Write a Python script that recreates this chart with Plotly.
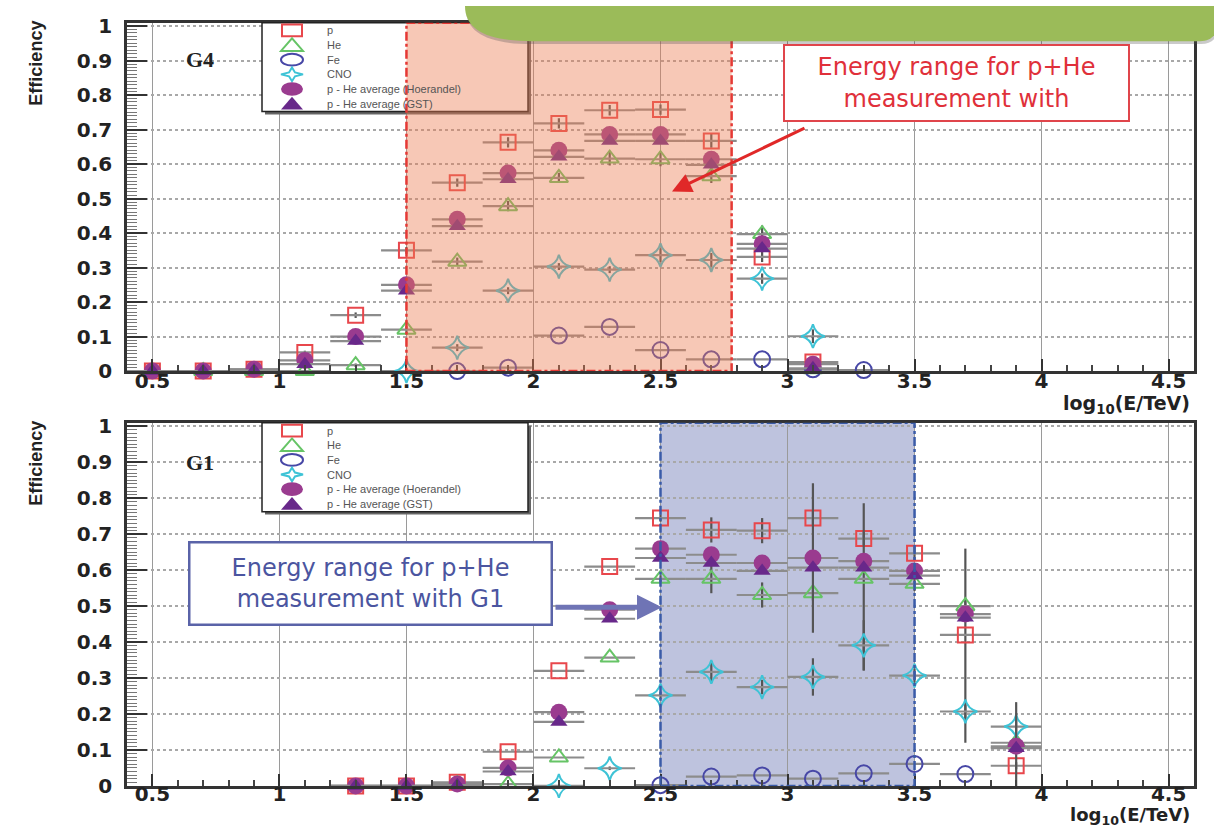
import plotly.graph_objects as go

W, H = 1214, 834

# ---------------- data ----------------
# G4 panel (top)
g4_x_p = [0.5, 0.7, 0.9, 1.1, 1.3, 1.5, 1.7, 1.9, 2.1, 2.3, 2.5, 2.7, 2.9, 3.1]
g4_p = [0.0, 0.0, 0.005, 0.054, 0.162, 0.35, 0.546, 0.663, 0.718, 0.756, 0.758, 0.667, 0.331, 0.026]
g4_x_he = [0.5, 0.7, 0.9, 1.1, 1.3, 1.5, 1.7, 1.9, 2.1, 2.3, 2.5, 2.7, 2.9, 3.1]
g4_he = [0.0, 0.0, 0.0, 0.0, 0.017, 0.12, 0.317, 0.478, 0.56, 0.616, 0.614, 0.565, 0.397, 0.005]
g4_x_fe = [1.7, 1.9, 2.1, 2.3, 2.5, 2.7, 2.9, 3.1, 3.3]
g4_fe = [0.0, 0.01, 0.103, 0.128, 0.061, 0.034, 0.034, 0.005, 0.003]
g4_x_cno = [1.5, 1.7, 1.9, 2.1, 2.3, 2.5, 2.7, 2.9, 3.1]
g4_cno = [0.0, 0.068, 0.233, 0.303, 0.294, 0.336, 0.322, 0.268, 0.101]
g4_x_avg = [0.5, 0.7, 0.9, 1.1, 1.3, 1.5, 1.7, 1.9, 2.1, 2.3, 2.5, 2.7, 2.9, 3.1]
g4_hoer = [0.0, 0.0, 0.005, 0.031, 0.10, 0.25, 0.44, 0.574, 0.64, 0.686, 0.686, 0.614, 0.369, 0.02]
g4_gst = [0.0, 0.0, 0.002, 0.02, 0.087, 0.233, 0.42, 0.556, 0.621, 0.667, 0.667, 0.598, 0.355, 0.008]
g4_p_err = [0, 0, 0, 0.005, 0.008, 0.01, 0.012, 0.015, 0.015, 0.015, 0.015, 0.02, 0.015, 0.005]
g4_he_err = [0, 0, 0, 0, 0.005, 0.01, 0.012, 0.015, 0.015, 0.02, 0.02, 0.02, 0.025, 0.005]
g4_cno_err = [0, 0.01, 0.01, 0.01, 0.01, 0.02, 0.02, 0.015, 0.02]

# G1 panel (bottom)
g1_x_p = [1.3, 1.5, 1.7, 1.9, 2.1, 2.3, 2.5, 2.7, 2.9, 3.1, 3.3, 3.5, 3.7, 3.9]
g1_p = [0.0, 0.0, 0.01, 0.095, 0.32, 0.61, 0.745, 0.712, 0.71, 0.745, 0.688, 0.647, 0.42, 0.056]
g1_p_err_plus = [0, 0, 0, 0, 0, 0, 0.01, 0.035, 0.035, 0.02, 0.02, 0.02, 0.24, 0.01]
g1_p_err_minus = [0, 0, 0, 0, 0, 0, 0.01, 0.035, 0.035, 0.02, 0.02, 0.02, 0.30, 0.01]
g1_x_he = [1.7, 1.9, 2.1, 2.3, 2.5, 2.7, 2.9, 3.1, 3.3, 3.5, 3.7, 3.9]
g1_he = [0.005, 0.005, 0.079, 0.357, 0.576, 0.576, 0.531, 0.536, 0.576, 0.562, 0.5, 0.12]
g1_he_err_plus = [0, 0, 0, 0, 0.01, 0.04, 0.035, 0.02, 0.21, 0.02, 0.02, 0.02]
g1_he_err_minus = [0, 0, 0, 0, 0.01, 0.04, 0.035, 0.02, 0.255, 0.02, 0.02, 0.02]
g1_x_fe = [2.5, 2.7, 2.9, 3.1, 3.3, 3.5, 3.7]
g1_fe = [0.002, 0.026, 0.029, 0.02, 0.035, 0.061, 0.033]
g1_x_cno = [2.1, 2.3, 2.5, 2.7, 2.9, 3.1, 3.3, 3.5, 3.7, 3.9]
g1_cno = [0.0, 0.049, 0.252, 0.317, 0.275, 0.303, 0.391, 0.307, 0.207, 0.165]
g1_cno_err = [0, 0.005, 0.01, 0.03, 0.02, 0.052, 0.07, 0.02, 0.02, 0.02]
g1_x_avg = [1.3, 1.5, 1.7, 1.9, 2.1, 2.3, 2.5, 2.7, 2.9, 3.1, 3.3, 3.5, 3.7, 3.9]
g1_hoer = [0.0, 0.0, 0.005, 0.05, 0.205, 0.49, 0.66, 0.643, 0.62, 0.634, 0.625, 0.598, 0.478, 0.11]
g1_hoer_err = [0, 0, 0, 0, 0, 0, 0.01, 0.01, 0.01, 0.208, 0.02, 0.02, 0.02, 0.123]
g1_gst = [0.0, 0.0, 0.002, 0.04, 0.178, 0.465, 0.634, 0.62, 0.598, 0.607, 0.607, 0.585, 0.468, 0.105]

bin_half_width = 0.1
g4_range = [1.5, 2.78]
g1_range = [2.5, 3.5]

series_names = ["p", "He", "Fe", "CNO", "p - He average (Hoerandel)", "p - He average (GST)"]
x_ticks = [0.5, 1, 1.5, 2, 2.5, 3, 3.5, 4, 4.5]

# ---------------- styles ----------------
C_P = "#E8474C"
C_HE = "#66C466"
C_FE = "#4747A6"
C_CNO = "#3EC3D6"
C_HOER = "#9A3B8F"
C_GST = "#68288A"
ERRX = "#8c8c8c"
ERRY = "#555555"


def px(x):
    return x / W


def py(y):
    return 1 - y / H


def make_traces(xa, ya, sets):
    out = []
    for (x, y, sym, size, color, filled, ey) in sets:
        marker = dict(symbol=sym, size=size, color=color,
                      line=dict(color=color, width=2 if not filled else 0))
        ex = dict(type="constant", value=bin_half_width, color=ERRX, thickness=2.2, width=0)
        tr = dict(x=x, y=y, mode="markers", marker=marker, error_x=ex,
                  xaxis=xa, yaxis=ya, showlegend=False, cliponaxis=False,
                  hoverinfo="x+y")
        if ey is not None:
            plus, minus = ey
            tr["error_y"] = dict(type="data", array=plus, arrayminus=minus, symmetric=False,
                                 color=ERRY, thickness=2.2, width=0)
        out.append(go.Scatter(**tr))
    return out


fig = go.Figure()

top_sets = [
    (g4_x_p, g4_p, "square-open", 15, C_P, False, (g4_p_err, g4_p_err)),
    (g4_x_he, g4_he, "triangle-up-open", 16, C_HE, False, (g4_he_err, g4_he_err)),
    (g4_x_fe, g4_fe, "circle-open", 16, C_FE, False, None),
    (g4_x_cno, g4_cno, "star-diamond-open", 17, C_CNO, False, (g4_cno_err, g4_cno_err)),
    (g4_x_avg, g4_hoer, "circle", 17, C_HOER, True, None),
    (g4_x_avg, g4_gst, "triangle-up", 15, C_GST, True, None),
]
bot_sets = [
    (g1_x_p, g1_p, "square-open", 15, C_P, False, (g1_p_err_plus, g1_p_err_minus)),
    (g1_x_he, g1_he, "triangle-up-open", 16, C_HE, False, (g1_he_err_plus, g1_he_err_minus)),
    (g1_x_fe, g1_fe, "circle-open", 16, C_FE, False, None),
    (g1_x_cno, g1_cno, "star-diamond-open", 17, C_CNO, False, (g1_cno_err, g1_cno_err)),
    (g1_x_avg, g1_hoer, "circle", 17, C_HOER, True, (g1_hoer_err, g1_hoer_err)),
    (g1_x_avg, g1_gst, "triangle-up", 15, C_GST, True, None),
]
for t in make_traces("x", "y", top_sets):
    fig.add_trace(t)
for t in make_traces("x2", "y2", bot_sets):
    fig.add_trace(t)

tickfont = dict(family="DejaVu Sans", size=20, color="#222", weight="bold")


def xaxis_cfg(dom_y_anchor, standoff):
    return dict(
        domain=[px(127), px(1194)], range=[0.4, 4.6], anchor=dom_y_anchor,
        tickmode="array", tickvals=x_ticks, ticktext=[f"{v:g}" for v in x_ticks],
        ticks="inside", ticklen=12, tickwidth=2, tickcolor="#333",
        showgrid=True, gridcolor="#9a9a9a", gridwidth=1,
        minor=dict(dtick=0.1, tick0=0.5, ticks="inside", ticklen=6, tickwidth=1.5,
                   tickcolor="#444", showgrid=False),
        showline=True, linecolor="#333", linewidth=2.5, mirror=True,
        zeroline=False, tickfont=tickfont, ticklabelstandoff=standoff, fixedrange=True,
    )


def yaxis_cfg(dom, xanchor):
    return dict(
        domain=dom, range=[0, 1.01], anchor=xanchor,
        dtick=0.1, tick0=0, ticks="inside", ticklen=20, tickwidth=2, tickcolor="#333",
        showgrid=True, gridcolor="#a8a8a8", gridwidth=1.5, griddash="dot",
        minor=dict(dtick=0.01, ticks="inside", ticklen=10, tickwidth=1,
                   tickcolor="#777", showgrid=False),
        showline=True, linecolor="#333", linewidth=2.5, mirror=True,
        zeroline=False, tickfont=tickfont, ticklabelstandoff=8, fixedrange=True,
    )


shapes = []
annotations = []


def legend(top):
    box_l, box_r = 262, 528
    bot = top + 91
    shapes.append(dict(type="rect", xref="paper", yref="paper", layer="above",
                       x0=px(box_l + 3), x1=px(box_r + 3), y0=py(bot + 3), y1=py(top + 3),
                       fillcolor="#666", line=dict(width=0)))
    shapes.append(dict(type="rect", xref="paper", yref="paper", layer="above",
                       x0=px(box_l), x1=px(box_r), y0=py(bot), y1=py(top),
                       fillcolor="white", line=dict(color="#222", width=1.5)))
    sx = 292
    for k, name in enumerate(series_names):
        yc = top + 8 + 15 * k
        if k == 0:
            shapes.append(dict(type="rect", xref="paper", yref="paper", layer="above",
                               x0=px(sx - 10), x1=px(sx + 10), y0=py(yc + 6), y1=py(yc - 6),
                               line=dict(color=C_P, width=2)))
        elif k == 1 or k == 5:
            pts = [(sx - 11, yc + 6), (sx + 11, yc + 6), (sx, yc - 7)]
            path = "M " + " L ".join(f"{px(a):.5f},{py(b):.5f}" for a, b in pts) + " Z"
            if k == 1:
                shapes.append(dict(type="path", path=path, xref="paper", yref="paper",
                                   layer="above", line=dict(color=C_HE, width=2)))
            else:
                shapes.append(dict(type="path", path=path, xref="paper", yref="paper",
                                   layer="above", fillcolor=C_GST, line=dict(width=0)))
        elif k == 2:
            shapes.append(dict(type="circle", xref="paper", yref="paper", layer="above",
                               x0=px(sx - 11), x1=px(sx + 11), y0=py(yc + 6), y1=py(yc - 6),
                               line=dict(color=C_FE, width=2)))
        elif k == 3:
            pts = [(sx, yc - 7), (sx + 3, yc - 2), (sx + 11, yc), (sx + 3, yc + 2),
                   (sx, yc + 7), (sx - 3, yc + 2), (sx - 11, yc), (sx - 3, yc - 2)]
            path = "M " + " L ".join(f"{px(a):.5f},{py(b):.5f}" for a, b in pts) + " Z"
            shapes.append(dict(type="path", path=path, xref="paper", yref="paper",
                               layer="above", line=dict(color=C_CNO, width=2)))
        elif k == 4:
            shapes.append(dict(type="circle", xref="paper", yref="paper", layer="above",
                               x0=px(sx - 11), x1=px(sx + 11), y0=py(yc + 7), y1=py(yc - 7),
                               fillcolor=C_HOER, line=dict(width=0)))
        annotations.append(dict(text=name, xref="paper", yref="paper", x=px(325), y=py(yc),
                                xanchor="left", yanchor="middle", showarrow=False,
                                font=dict(family="Liberation Sans", size=11, color="#555")))


legend(15)
legend(425)

# top energy range (overlay as on the slide)
shapes.append(dict(type="rect", xref="x", yref="y", layer="above",
                   x0=g4_range[0], x1=g4_range[1], y0=0, y1=1.01,
                   fillcolor="rgb(235,125,80)", opacity=0.42, line=dict(width=0)))
shapes.append(dict(type="rect", xref="x", yref="y", layer="above",
                   x0=g4_range[0], x1=g4_range[1], y0=0, y1=1.01,
                   line=dict(color="#E53935", width=2.5, dash="dashdot")))
# bottom energy range
shapes.append(dict(type="rect", xref="x2", yref="y2", layer="below",
                   x0=g1_range[0], x1=g1_range[1], y0=0, y1=1.01,
                   fillcolor="rgb(190,195,222)", line=dict(width=0)))
shapes.append(dict(type="rect", xref="x2", yref="y2", layer="above",
                   x0=g1_range[0], x1=g1_range[1], y0=0, y1=1.01,
                   line=dict(color="#3A5BA8", width=2.5, dash="dashdot")))


def green_path(dx=0, dy=0):
    d = (f"M {px(465+dx):.5f},{py(-2+dy):.5f} "
         f"C {px(465+dx):.5f},{py(24+dy):.5f} {px(490+dx):.5f},{py(34+dy):.5f} {px(532+dx):.5f},{py(34+dy):.5f} "
         f"L {px(1200+dx):.5f},{py(34+dy):.5f} "
         f"C {px(1210+dx):.5f},{py(34+dy):.5f} {px(1216+dx):.5f},{py(28+dy):.5f} {px(1216+dx):.5f},{py(22+dy):.5f} "
         f"L {px(1216+dx):.5f},{py(-2+dy):.5f} Z")
    return d


shapes.append(dict(type="path", path=green_path(1, 3), xref="paper", yref="paper", layer="above",
                   fillcolor="rgba(80,80,80,0.3)", line=dict(width=0)))
shapes.append(dict(type="path", path=green_path(), xref="paper", yref="paper", layer="above",
                   fillcolor="#9BBB59", line=dict(width=0)))

# texts
for yc in (57, 467):
    annotations.append(dict(text="Efficiency", xref="paper", yref="paper", x=px(36), y=py(yc),
                            textangle=-90, showarrow=False, xanchor="center", yanchor="middle",
                            font=dict(family="Liberation Sans", size=18, color="#222", weight="bold")))
annotations.append(dict(text="G4", xref="paper", yref="paper", x=px(200), y=py(53), showarrow=False,
                        xanchor="center", yanchor="middle",
                        font=dict(family="Liberation Serif", size=22, color="#222", weight="bold")))
annotations.append(dict(text="G1", xref="paper", yref="paper", x=px(200), y=py(466), showarrow=False,
                        xanchor="center", yanchor="middle",
                        font=dict(family="Liberation Serif", size=22, color="#222", weight="bold")))
for yc, fs in ((406, 19), (828, 18)):
    annotations.append(dict(text="log<sub>10</sub>(E/TeV)", xref="paper", yref="paper",
                            x=px(1192), y=py(yc), xanchor="right", yanchor="middle", showarrow=False,
                            font=dict(family="DejaVu Sans", size=fs, color="#222", weight="bold")))

annotations.append(dict(text="Energy range for p+He<br>measurement with", xref="paper", yref="paper",
                        x=px(956), y=py(77), xanchor="center", yanchor="middle",
                        showarrow=False, width=343, height=74,
                        bordercolor="#E0454B", borderwidth=2, borderpad=0, bgcolor="white",
                        font=dict(family="DejaVu Sans", size=24, color="#E0303A")))
annotations.append(dict(text="", xref="paper", yref="paper", x=px(672), y=py(188),
                        ax=134, ay=-64, showarrow=True, arrowhead=2, arrowsize=1.3,
                        arrowwidth=3, arrowcolor="#E02828"))
annotations.append(dict(text="Energy range for p+He<br>measurement with G1", xref="paper", yref="paper",
                        x=px(370), y=py(590), xanchor="center", yanchor="middle",
                        showarrow=False, width=360, height=80,
                        bordercolor="#5A63A8", borderwidth=2.5, borderpad=0, bgcolor="white",
                        font=dict(family="DejaVu Sans", size=24, color="#4B55A0")))
annotations.append(dict(text="", xref="paper", yref="paper", x=px(662), y=py(614),
                        ax=-108, ay=0, showarrow=True, arrowhead=2, arrowsize=1,
                        arrowwidth=5, arrowcolor="#6F74B5"))

fig.update_layout(
    width=W, height=H, autosize=False,
    margin=dict(l=0, r=0, t=0, b=0),
    paper_bgcolor="white", plot_bgcolor="white",
    xaxis=xaxis_cfg("y", -10),
    yaxis=yaxis_cfg([py(372), py(15)], "x"),
    xaxis2=xaxis_cfg("y2", -12),
    yaxis2=yaxis_cfg([py(797), py(425)], "x2"),
    shapes=shapes, annotations=annotations,
    showlegend=False,
)

fig.write_html("out.html")
